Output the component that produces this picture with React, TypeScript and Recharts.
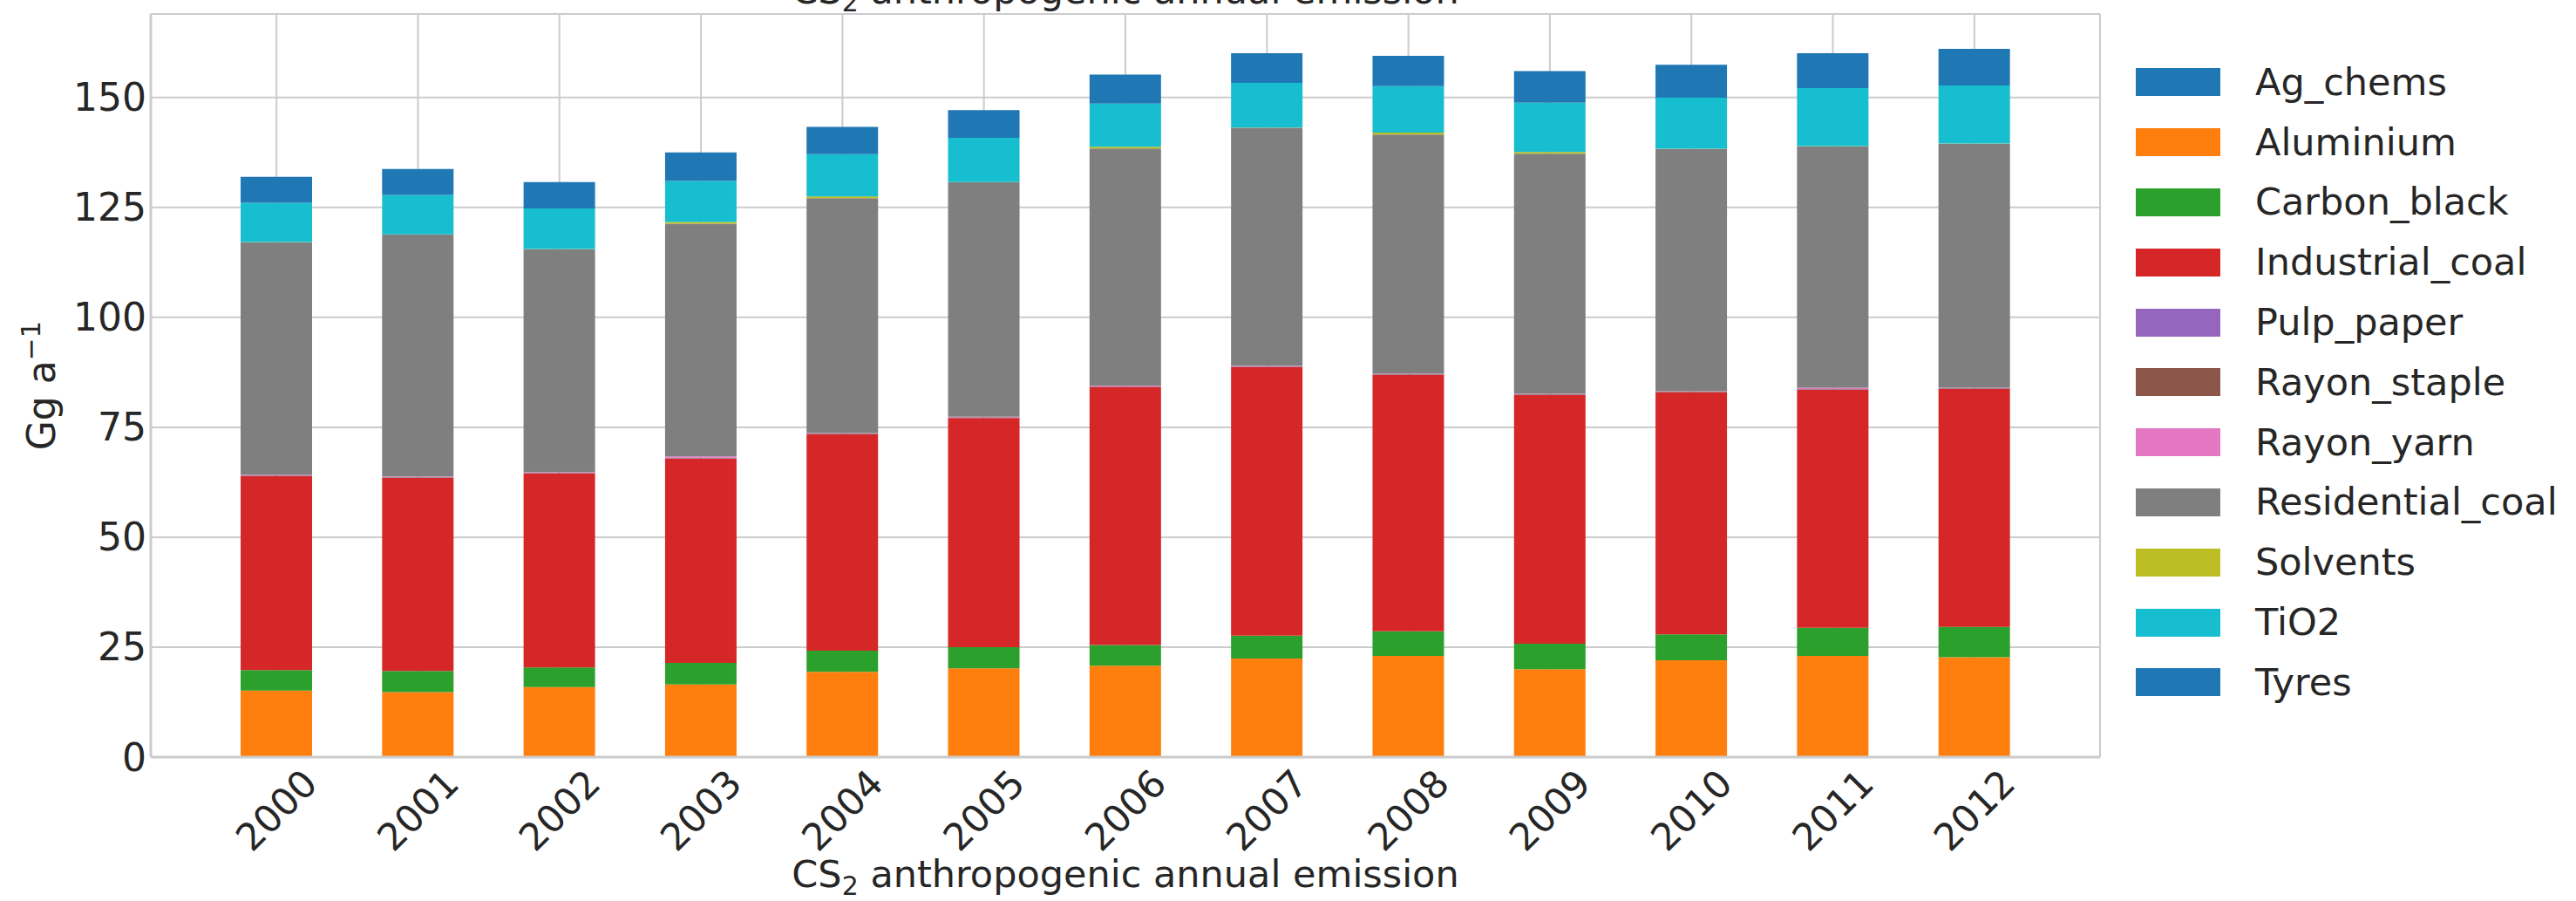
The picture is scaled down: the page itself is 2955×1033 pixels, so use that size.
import React from 'react';
import { BarChart, Bar, XAxis, YAxis, CartesianGrid, Legend } from 'recharts';

const YEARS = ['2000', '2001', '2002', '2003', '2004', '2005', '2006', '2007', '2008', '2009', '2010', '2011', '2012'];

const AG_CHEMS = [0.1, 0.1, 0.1, 0.1, 0.1, 0.1, 0.1, 0.1, 0.1, 0.1, 0.1, 0.1, 0.1];
const ALUMINIUM = [15.0, 14.7, 15.8, 16.4, 19.3, 20.1, 20.7, 22.3, 22.9, 19.9, 21.9, 22.9, 22.6];
const CARBON_BLACK = [4.7, 4.8, 4.5, 4.9, 4.8, 4.8, 4.7, 5.2, 5.6, 5.8, 5.9, 6.4, 6.9];
const INDUSTRIAL_COAL = [44.1, 43.9, 44.1, 46.5, 49.2, 52.1, 58.7, 61.1, 58.3, 56.5, 55.0, 54.1, 54.1];
const PULP_PAPER = [0.1, 0.1, 0.1, 0.1, 0.1, 0.1, 0.1, 0.1, 0.1, 0.1, 0.1, 0.1, 0.1];
const RAYON_STAPLE = [0.1, 0.1, 0.1, 0.1, 0.1, 0.1, 0.1, 0.1, 0.1, 0.1, 0.1, 0.1, 0.1];
const RAYON_YARN = [0.1, 0.1, 0.1, 0.3, 0.1, 0.1, 0.1, 0.1, 0.1, 0.1, 0.1, 0.3, 0.1];
const RESIDENTIAL_COAL = [52.9, 55.0, 50.7, 52.9, 53.4, 53.3, 53.9, 54.1, 54.4, 54.6, 55.1, 54.9, 55.5];
const SOLVENTS = [0.05, 0.05, 0.05, 0.4, 0.4, 0.05, 0.4, 0.05, 0.4, 0.4, 0.05, 0.05, 0.05];
const TIO2 = [8.9, 9.0, 9.2, 9.3, 9.6, 10.1, 9.8, 10.2, 10.6, 11.2, 11.6, 13.2, 13.2];
const TYRES = [5.9, 5.9, 6.0, 6.5, 6.2, 6.3, 6.6, 6.7, 6.9, 7.2, 7.5, 7.9, 8.3];

const Y_TICKS = [0, 25, 50, 75, 100, 125, 150];
const Y_MAX = 169;

const SERIES = [
  { key: 'Ag_chems', values: AG_CHEMS, color: '#1f77b4' },
  { key: 'Aluminium', values: ALUMINIUM, color: '#ff7f0e' },
  { key: 'Carbon_black', values: CARBON_BLACK, color: '#2ca02c' },
  { key: 'Industrial_coal', values: INDUSTRIAL_COAL, color: '#d62728' },
  { key: 'Pulp_paper', values: PULP_PAPER, color: '#9467bd' },
  { key: 'Rayon_staple', values: RAYON_STAPLE, color: '#8c564b' },
  { key: 'Rayon_yarn', values: RAYON_YARN, color: '#e377c2' },
  { key: 'Residential_coal', values: RESIDENTIAL_COAL, color: '#7f7f7f' },
  { key: 'Solvents', values: SOLVENTS, color: '#bcbd22' },
  { key: 'TiO2', values: TIO2, color: '#17becf' },
  { key: 'Tyres', values: TYRES, color: '#1f77b4' },
];

const data = YEARS.map((year, i) => {
  const row: Record<string, string | number> = { year };
  SERIES.forEach((s) => {
    row[s.key] = s.values[i];
  });
  return row;
});

const W = 2955;
const H = 1033;
const PLOT_LEFT = 173;
const PLOT_RIGHT = 2409;
const PLOT_TOP = 16;
const PLOT_BOTTOM = 868;
const Y_AXIS_W = 100;
const X_AXIS_H = 100;
const FONT = "'DejaVu Sans', sans-serif";
const TEXT = '#262626';
const GRID = '#cccccc';

const XTick = (props: any) => {
  const { x, payload } = props;
  const cy = PLOT_BOTTOM + 61;
  return (
    <text
      x={x}
      y={cy}
      transform={`rotate(-45, ${x}, ${cy})`}
      textAnchor="middle"
      dominantBaseline="central"
      fontSize={43}
      fontFamily={FONT}
      fill={TEXT}
    >
      {payload.value}
    </text>
  );
};

const YTick = (props: any) => {
  const { y, payload } = props;
  return (
    <text
      x={PLOT_LEFT - 5}
      y={y}
      textAnchor="end"
      dominantBaseline="central"
      fontSize={44}
      fontFamily={FONT}
      fill={TEXT}
    >
      {payload.value}
    </text>
  );
};

const LegendBox = () => (
  <div style={{ fontFamily: FONT, fontSize: 43, color: TEXT }}>
    {SERIES.map((s) => (
      <div key={s.key} style={{ display: 'flex', alignItems: 'center', height: 68.8 }}>
        <div style={{ width: 97, height: 32, background: s.color, flex: 'none' }} />
        <span style={{ marginLeft: 40, lineHeight: 1, whiteSpace: 'nowrap' }}>{s.key}</span>
      </div>
    ))}
  </div>
);

const cx = (PLOT_LEFT + PLOT_RIGHT) / 2;
const cyPlot = (PLOT_TOP + PLOT_BOTTOM) / 2;

export default function App() {
  return (
    <div style={{ position: 'absolute', left: 0, top: 0, width: W, height: H, background: '#ffffff', overflow: 'hidden' }}>
      <BarChart
        width={W}
        height={H}
        data={data}
        margin={{
          top: PLOT_TOP,
          right: W - PLOT_RIGHT,
          bottom: H - PLOT_BOTTOM - X_AXIS_H,
          left: PLOT_LEFT - Y_AXIS_W,
        }}
        barSize={82}
      >
        <CartesianGrid stroke={GRID} strokeWidth={2} />
        <XAxis
          dataKey="year"
          height={X_AXIS_H}
          padding={{ left: 63, right: 63 }}
          interval={0}
          tickLine={false}
          axisLine={{ stroke: GRID, strokeWidth: 3 }}
          tick={<XTick />}
        />
        <XAxis
          xAxisId="top"
          dataKey="year"
          orientation="top"
          height={0}
          padding={{ left: 63, right: 63 }}
          tick={false}
          tickLine={false}
          axisLine={{ stroke: GRID, strokeWidth: 3 }}
        />
        <YAxis
          width={Y_AXIS_W}
          domain={[0, Y_MAX]}
          ticks={Y_TICKS}
          interval={0}
          tickLine={false}
          axisLine={{ stroke: GRID, strokeWidth: 3 }}
          tick={<YTick />}
        />
        <YAxis
          yAxisId="right"
          orientation="right"
          width={0}
          domain={[0, Y_MAX]}
          tick={false}
          tickLine={false}
          axisLine={{ stroke: GRID, strokeWidth: 3 }}
        />
        {SERIES.map((s) => (
          <Bar key={s.key} dataKey={s.key} stackId="a" fill={s.color} isAnimationActive={false} />
        ))}
        <Legend
          layout="vertical"
          align="center"
          verticalAlign="middle"
          content={() => <LegendBox />}
          wrapperStyle={{ left: 2450, top: 60, width: 500, height: 760 }}
        />
      </BarChart>
      <svg
        width={W}
        height={H}
        style={{ position: 'absolute', left: 0, top: 0, pointerEvents: 'none' }}
      >
        <text x={cx} y={4} textAnchor="middle" fontSize={43} fontFamily={FONT} fill={TEXT}>
          CS<tspan fontSize={30} dy={9}>2</tspan>
          <tspan dy={-9}> anthropogenic annual emission</tspan>
        </text>
        <text x={cx} y={1017} textAnchor="middle" fontSize={43} fontFamily={FONT} fill={TEXT}>
          CS<tspan fontSize={30} dy={9}>2</tspan>
          <tspan dy={-9}> anthropogenic annual emission</tspan>
        </text>
        <text
          transform="rotate(-90)"
          x={-cyPlot}
          y={63}
          textAnchor="middle"
          fontSize={44}
          fontFamily={FONT}
          fill={TEXT}
        >
          Gg a<tspan fontSize={31} dy={-17}>−1</tspan>
        </text>
      </svg>
    </div>
  );
}
